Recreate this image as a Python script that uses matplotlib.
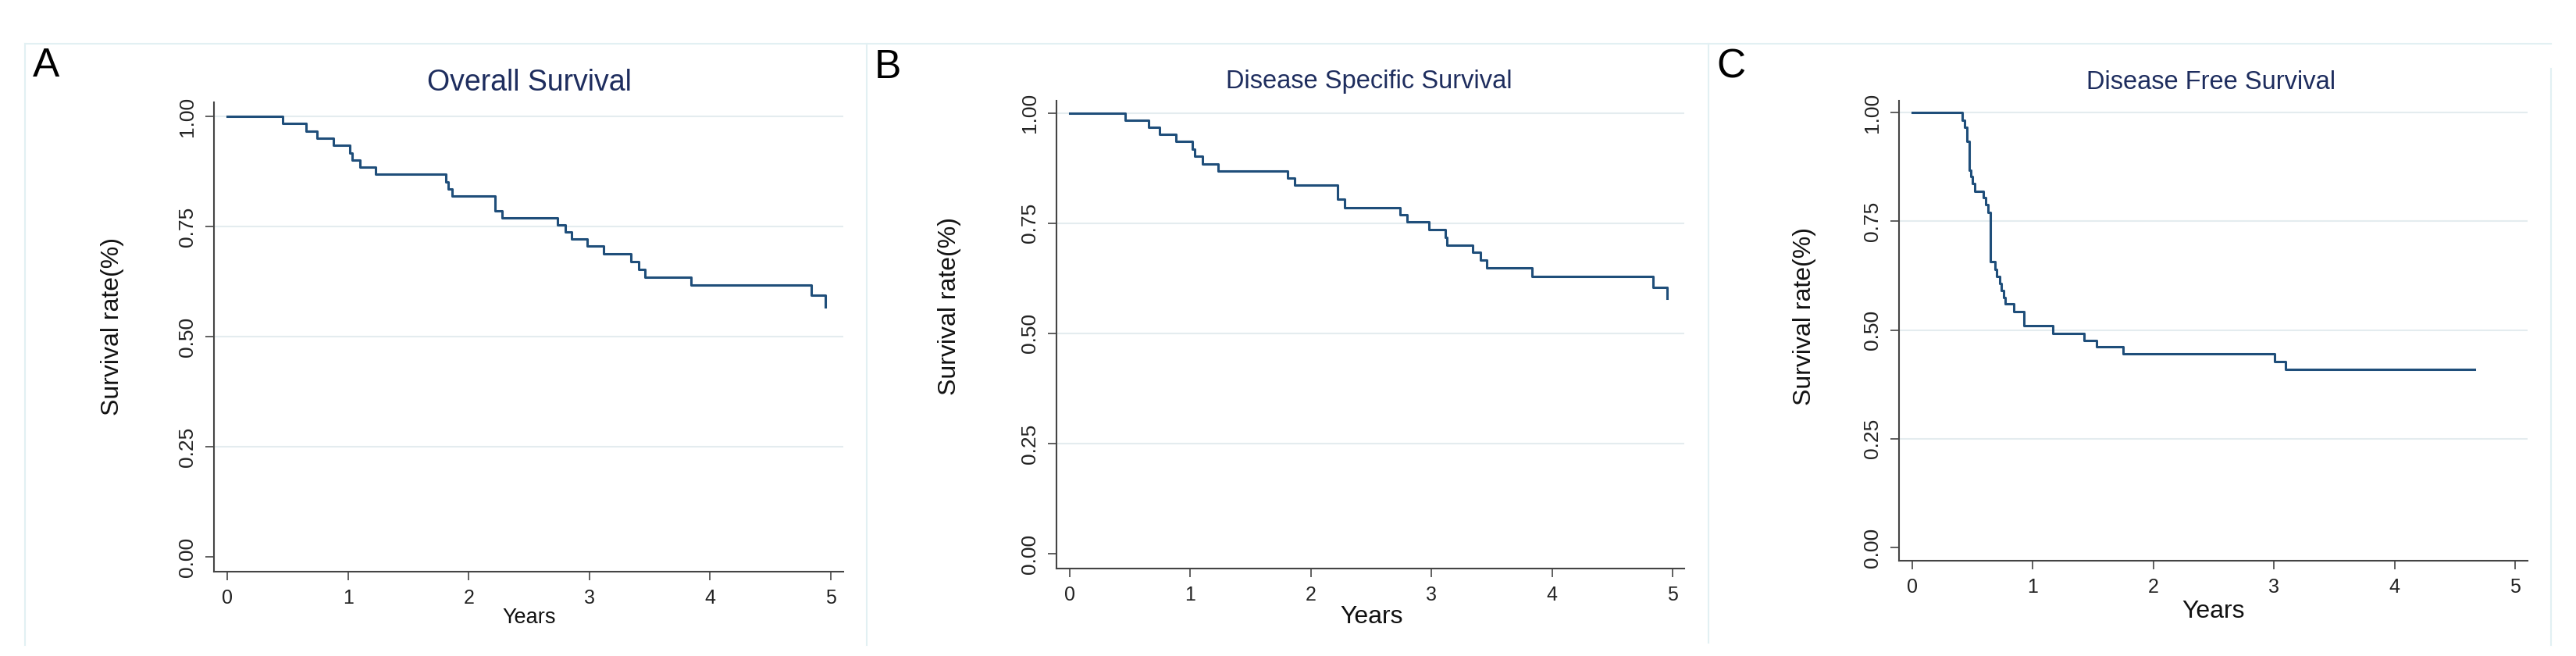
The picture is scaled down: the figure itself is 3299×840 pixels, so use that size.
import matplotlib
matplotlib.use("Agg")
import matplotlib.pyplot as plt
from matplotlib.lines import Line2D

plt.rcParams['font.family'] = ['Liberation Sans', 'DejaVu Sans']

# ---------------- data ----------------
panel_letters = ["A", "B", "C"]
titles = ["Overall Survival", "Disease Specific Survival", "Disease Free Survival"]
y_label = "Survival rate(%)"
x_label = "Years"
x_ticks = [0, 1, 2, 3, 4, 5]
y_ticks = [0.00, 0.25, 0.50, 0.75, 1.00]
y_tick_labels = ["0.00", "0.25", "0.50", "0.75", "1.00"]

times_A = [0, 0.457, 0.651, 0.742, 0.880, 1.013, 1.035, 1.100, 1.229, 1.809, 1.833,
           1.865, 2.219, 2.279, 2.738, 2.803, 2.855, 2.980, 3.120, 3.346, 3.407,
           3.463, 3.842, 4.840, 4.957]
surv_A = [1.0, 0.984, 0.967, 0.950, 0.934, 0.917, 0.901, 0.884, 0.868, 0.852, 0.835,
          0.819, 0.786, 0.770, 0.754, 0.738, 0.721, 0.705, 0.688, 0.670, 0.652,
          0.635, 0.617, 0.594, 0.567]

times_B = [0, 0.460, 0.654, 0.745, 0.883, 1.015, 1.036, 1.103, 1.233, 1.807, 1.863,
           2.219, 2.278, 2.738, 2.800, 2.977, 3.115, 3.130, 3.342, 3.407, 3.459,
           3.836, 4.840, 4.955]
surv_B = [1.0, 0.984, 0.968, 0.952, 0.935, 0.918, 0.902, 0.885, 0.869, 0.852, 0.836,
          0.804, 0.786, 0.770, 0.753, 0.735, 0.718, 0.700, 0.684, 0.666, 0.648,
          0.629, 0.604, 0.579]

times_C = [0, 0.412, 0.434, 0.451, 0.473, 0.486, 0.499, 0.520, 0.589, 0.607, 0.628,
           0.646, 0.687, 0.702, 0.723, 0.740, 0.756, 0.773, 0.840, 0.928, 1.167,
           1.424, 1.528, 1.751, 3.003, 3.097, 4.663]
surv_C = [1.0, 0.983, 0.966, 0.934, 0.868, 0.852, 0.837, 0.819, 0.804, 0.788, 0.770,
          0.657, 0.639, 0.623, 0.606, 0.590, 0.575, 0.560, 0.543, 0.510, 0.492,
          0.476, 0.461, 0.445, 0.427, 0.410, 0.410]

series = [(times_A, surv_A), (times_B, surv_B), (times_C, surv_C)]

# ---------------- layout / style ----------------
W, H = 3299, 840
fig = plt.figure(figsize=(W / 100, H / 100), dpi=100)
fig.patch.set_facecolor("white")

def fx(px):
    return px / W

def fy(py):
    return 1 - py / H

# axes boxes in pixels: left, right, top, bottom
boxes = [(274, 1080, 131, 732), (1353, 2157, 129, 728), (2432, 3237, 129, 718)]
xlims = [(-0.110, 5.103), (-0.110, 5.097), (-0.110, 5.104)]
ylims = [(-0.0337, 1.032), (-0.0337, 1.028), (-0.0305, 1.027)]
title_pos = [(678, 106), (1753, 105), (2832, 105)]
title_size = [27, 23.5, 23.5]
ylab_pos = [(144, 418), (1216, 392), (2311, 405)]
xlab_pos = [(678, 791), (1757, 790), (2835, 783)]
xlab_size = [19.5, 23, 23]
letter_pos = [(59, 84), (1137, 86), (2217, 86)]

line_color = "#1f4e7a"
title_color = "#1e2d5e"
axis_color = "#444444"
grid_color = "#e4ecef"

# faint frame lines of the original graph images
frame_col = "#e2f0f3"
fig.add_artist(Line2D([fx(32), fx(3267)], [fy(56), fy(56)], color=frame_col, lw=1.5))
for vx, y0, y1 in [(32, 56, 826), (1110, 56, 826), (2188, 56, 823), (3267, 88, 826)]:
    fig.add_artist(Line2D([fx(vx), fx(vx)], [fy(y0), fy(y1)], color=frame_col, lw=1.5))

for i, (t, s) in enumerate(series):
    l, r, top, bot = boxes[i]
    ax = fig.add_axes([fx(l), fy(bot), fx(r - l), (bot - top) / H])
    ax.set_facecolor("white")
    for yv in y_ticks[1:]:
        ax.axhline(yv, color=grid_color, lw=1.5, zorder=0)
    ax.step(t, s, where="post", color=line_color, lw=2.2, zorder=3)
    ax.set_xlim(*xlims[i])
    ax.set_ylim(*ylims[i])
    ax.set_xticks(x_ticks)
    ax.set_xticklabels([str(v) for v in x_ticks], fontsize=18, color="#222222")
    ax.set_yticks(y_ticks)
    ax.set_yticklabels(y_tick_labels, fontsize=19, color="#222222",
                       rotation=90, va="center")
    ax.tick_params(axis="both", length=8, width=1.2, color=axis_color, pad=8)
    for side in ["top", "right"]:
        ax.spines[side].set_visible(False)
    for side in ["left", "bottom"]:
        ax.spines[side].set_color(axis_color)
        ax.spines[side].set_linewidth(1.5)

    fig.text(fx(title_pos[i][0]), fy(title_pos[i][1]), titles[i], fontsize=title_size[i],
             color=title_color, ha="center", va="center")
    fig.text(fx(ylab_pos[i][0]), fy(ylab_pos[i][1]), y_label, fontsize=23,
             color="#111111", ha="center", va="center", rotation=90)
    fig.text(fx(xlab_pos[i][0]), fy(xlab_pos[i][1]), x_label, fontsize=xlab_size[i],
             color="#111111", ha="center", va="center")
    fig.text(fx(letter_pos[i][0]), fy(letter_pos[i][1]), panel_letters[i], fontsize=37,
             color="#000000", ha="center", va="center")

fig.savefig("out.png", dpi=100, facecolor="white")
